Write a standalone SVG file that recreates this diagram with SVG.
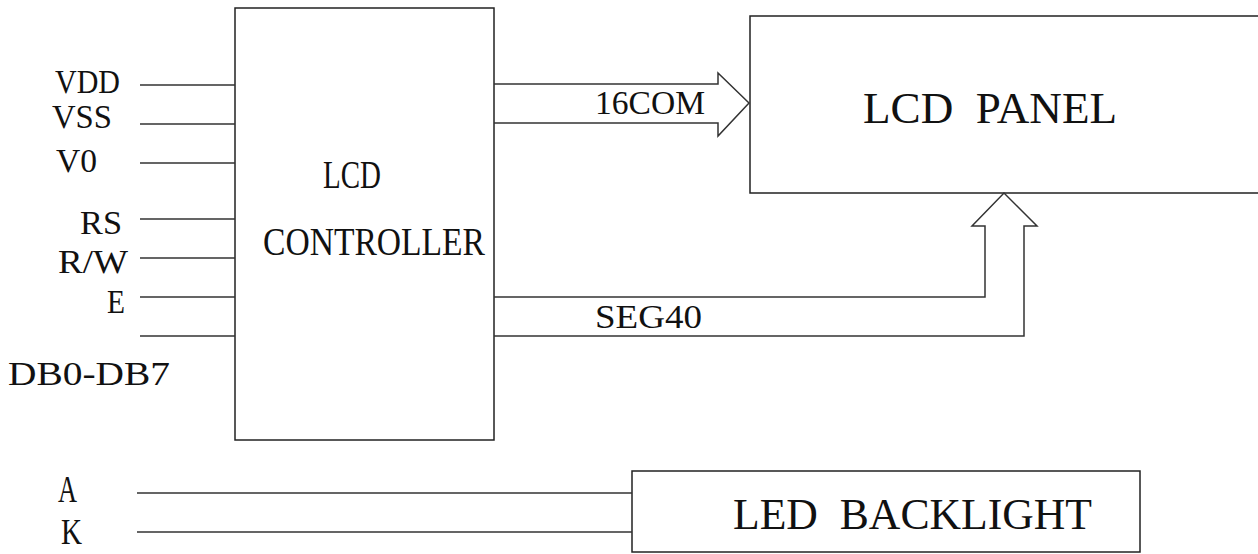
<svg xmlns="http://www.w3.org/2000/svg" width="1258" height="554" viewBox="0 0 1258 554">
<style>
.box{fill:none;stroke:#222;stroke-width:1.5}
.ln{fill:none;stroke:#333;stroke-width:1.5}
text{font-family:"Liberation Serif","Times New Roman",serif;fill:#111}
.s{font-size:33px}
</style>
<rect width="1258" height="554" fill="#fff"/>
<g id="controller">
<rect class="box" x="235" y="8" width="259" height="432"/>
<text x="323" y="188" font-size="40" textLength="58" lengthAdjust="spacingAndGlyphs">LCD</text>
<text x="263" y="255" font-size="41" textLength="222" lengthAdjust="spacingAndGlyphs">CONTROLLER</text>
</g>
<g id="panel">
<path class="box" d="M1258,16 H750 V193 H1258"/>
<text x="863" y="123" font-size="45" textLength="254" lengthAdjust="spacingAndGlyphs" xml:space="preserve">LCD  PANEL</text>
</g>
<g id="backlight">
<rect class="box" x="632" y="471" width="508" height="81"/>
<text x="733" y="529" font-size="44" textLength="359" lengthAdjust="spacingAndGlyphs" xml:space="preserve">LED  BACKLIGHT</text>
</g>
<g id="pins">
<text class="s" x="55" y="93" textLength="65" lengthAdjust="spacingAndGlyphs">VDD</text>
<text class="s" x="52" y="128" textLength="60" lengthAdjust="spacingAndGlyphs">VSS</text>
<text class="s" x="56" y="172" textLength="41" lengthAdjust="spacingAndGlyphs">V0</text>
<text class="s" x="80" y="234" textLength="42" lengthAdjust="spacingAndGlyphs">RS</text>
<text class="s" x="58" y="273" textLength="70" lengthAdjust="spacingAndGlyphs">R/W</text>
<text class="s" x="107" y="313" textLength="18" lengthAdjust="spacingAndGlyphs">E</text>
<text class="s" x="8" y="385" textLength="162" lengthAdjust="spacingAndGlyphs">DB0-DB7</text>
<text x="58" y="502" font-size="37" textLength="19" lengthAdjust="spacingAndGlyphs">A</text>
<text x="61" y="544" font-size="36" textLength="21" lengthAdjust="spacingAndGlyphs">K</text>
</g>
<g id="connectors">
<path class="ln" d="M140,85 H235 M140,124 H235 M140,163 H235 M140,219 H235 M140,258 H235 M140,297 H235 M140,336 H235"/>
<path class="ln" d="M137,493 H632 M137,532 H632"/>
<path class="ln" d="M494,84 H718 V73 L749,103 L718,136 V123 H494"/>
<path class="ln" d="M494,297 H985 V226 H972 L1004,193 L1037,226 H1024 V336 H494"/>
<text x="595" y="114" font-size="33" textLength="110" lengthAdjust="spacingAndGlyphs">16COM</text>
<text x="595" y="328" font-size="34" textLength="107" lengthAdjust="spacingAndGlyphs">SEG40</text>
</g>
</svg>
